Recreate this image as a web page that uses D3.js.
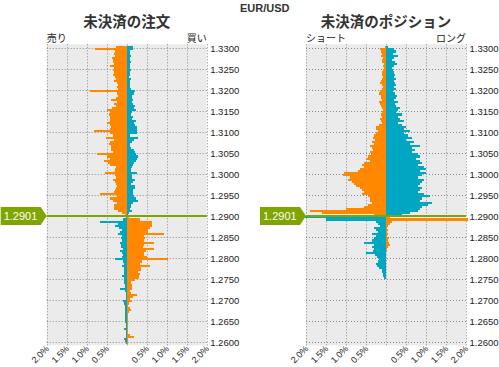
<!DOCTYPE html>
<html><head><meta charset="utf-8">
<script src="https://cdn.jsdelivr.net/npm/d3@7"></script>
<style>body{margin:0;background:#fff}svg{display:block}</style></head>
<body><svg id="c" width="499" height="367"></svg>
<script>
const chartTitle = "EUR/USD";
const panelTitles = ["未決済の注文", "未決済のポジション"];
const sideLabels = [["売り", "買い"], ["ショート", "ロング"]];
const priceTicks = ["1.3300","1.3250","1.3200","1.3150","1.3100","1.3050","1.3000","1.2950","1.2900","1.2850","1.2800","1.2750","1.2700","1.2650","1.2600"];
const pctTickValues = [-2, -1.5, -1, -0.5, 0.5, 1, 1.5, 2];
const pctTickLabels = ["2.0%", "1.5%", "1.0%", "0.5%", "0.5%", "1.0%", "1.5%", "2.0%"];
const currentPrice = 1.2901;
const currentLabel = "1.2901";
// price buckets (lower bound), top to bottom, 0.0005 wide
const buckets = d3.range(142).map(i => +(1.3300 - i * 0.0005).toFixed(4));

// Open orders: left side (%), right side (%)
const ordersLeft = [.27,.79,.29,.32,.30,.37,.35,.35,.33,.42,.32,.35,.33,.35,.30,.28,.33,.25,.23,.25,.23,.92,.25,.23,.27,.40,.25,.33,.28,.38,.50,.43,.45,.42,.43,.42,.50,.42,.40,.42,.82,.43,.35,.52,.33,.43,.45,.40,.40,
 .40,.35,.75,.50,.42,.57,.46,.43,.27,.29,.29,.54,.29,.27,.35,.29,.27,.25,.27,.30,.33,.67,.25,.42,.35,.25,.33,.33,.33,.23,.12,.05,
 .02,.10,.67,.22,.30,.20,.13,.17,.22,.13,.15,.13,.17,.15,.15,.10,.17,.13,.10,.12,.29,.10,.08,.13,.07,.08,.08,.07,.12,.08,.08,.08,.05,.05,.17,.05,.03,.03,.03,.03,.10,.07,.05,.05,.05,.05,.05,.05,.05,.05,.05,.03,.03,.08,.03,.02,.02,.02,.08,.05,.03];
const ordersRight = [.15,.15,.08,.07,.10,.08,.07,.10,.07,.08,.07,.10,.07,.07,.05,.10,.08,.07,.08,.09,.10,.21,.17,.12,.13,.15,.13,.15,.20,.18,.23,.13,.10,.15,.12,.22,.18,.20,.25,.25,.25,.25,.07,.28,.17,.13,.08,.07,.10,
 .17,.20,.22,.27,.25,.22,.18,.15,.13,.10,.10,.25,.13,.13,.20,.15,.10,.20,.20,.15,.15,.15,.18,.23,.27,.15,.10,.10,.07,.13,.05,.03,
 .05,.33,.63,.63,.62,.58,.54,.52,.93,.42,.45,.43,.68,.43,.40,.68,.48,.42,.43,.50,1.03,.37,.33,.58,.35,.35,.27,.32,.30,.30,.20,.10,.13,.13,.12,.08,.10,.25,.15,.08,.13,.05,.02,.07,.10,.05,.03,.02,.02,.02,.02,.02,.02,.02,.02,.02,.07,.18,.03,.02,.02];
// Open positions
const positionsLeft = [.03,.15,.12,.10,.12,.08,.10,.10,.05,.08,.05,.08,.10,.10,.08,.10,.12,.15,.10,.08,.10,.15,.17,.12,.12,.10,.17,.15,.12,.10,.08,.10,.12,.10,.15,.12,.10,.17,.25,.25,.20,.25,.30,.33,.27,.35,.30,.40,.35,
 .33,.40,.37,.45,.50,.40,.55,.60,.55,.65,.70,1.05,1.07,.90,.95,.85,.80,.75,.65,.60,.55,.60,.45,.40,.40,.35,.45,.55,1.00,1.90,1.60,.30,
 2.70,1.50,.25,.20,.15,.30,.25,.20,.35,.25,.30,.35,.55,.30,.35,.30,.32,.50,.28,.22,.18,.20,.25,.22,.18,.10,.10,.07,.07,.05];
const positionsRight = [.05,.20,.25,.18,.30,.20,.15,.22,.28,.20,.15,.18,.20,.22,.20,.25,.20,.22,.25,.20,.25,.18,.22,.28,.25,.20,.30,.22,.25,.35,.30,.25,.40,.30,.35,.45,.30,.40,.50,.45,.60,.45,.55,.65,.50,.70,.60,.85,.65,
 .72,.65,.80,.85,.75,.85,.90,.80,.95,1.0,.85,1.0,.90,.80,.95,.90,.85,.80,.90,.85,.80,.95,1.10,.90,.85,1.15,1.05,.90,.85,.80,.60,.40,
 .10,2.05,.15,.10,.05,.03,.05,.02,.05,.03,.08,.05,.07,.10,.05,.03,.02];

const ORANGE = "#ff8800", TEAL = "#00a6c2", GREEN = "#7fa600";
const svg = d3.select("#c");
const y = d3.scaleLinear().domain([1.2600, 1.3300]).range([342.3, 48.3]);
const panels = [
  {x0: 46.7, x1: 206.7, left: ordersLeft, right: ordersRight},
  {x0: 306, x1: 466, left: positionsLeft, right: positionsRight}
];
const yTop = d => Math.round(y(d.b + 0.0005));
const yBot = d => Math.round(y(d.b));

svg.append("text").attr("x", 240).attr("y", 12).text(chartTitle)
  .attr("font-family", "Liberation Sans, Arial, sans-serif").attr("font-weight", "bold")
  .attr("font-size", 11).attr("fill", "#333");

panels.forEach((p, pi) => {
  const x = d3.scaleLinear().domain([-2, 2]).range([p.x0, p.x1]);
  const g = svg.append("g");
  const top = y(1.3300) - 4, bot = y(1.2600) + 3;
  g.append("rect").attr("x", x(-2)).attr("y", top).attr("width", x(2) - x(-2)).attr("height", bot - top).attr("fill", "#ebebeb");
  // grid
  g.selectAll(".vg").data(d3.range(-2, 2.01, 0.5)).join("line")
    .attr("x1", d => Math.round(x(d)) + 0.5).attr("x2", d => Math.round(x(d)) + 0.5)
    .attr("y1", top).attr("y2", bot)
    .attr("stroke", "#8a8a8a").attr("stroke-dasharray", "1,2");
  g.selectAll(".hg").data(priceTicks).join("line")
    .attr("x1", x(-2)).attr("x2", x(2))
    .attr("y1", d => Math.round(y(+d)) + 0.5).attr("y2", d => Math.round(y(+d)) + 0.5)
    .attr("stroke", "#8a8a8a").attr("stroke-dasharray", "1,2");
  // bars
  const rows = buckets.map((b, i) => ({b, l: p.left[i] || 0, r: p.right[i] || 0, above: b >= 1.2900}));
  const bars = g.append("g").attr("shape-rendering", "crispEdges");
  bars.selectAll(".bl").data(rows.filter(d => d.l > 0)).join("rect")
    .attr("x", d => x(-d.l)).attr("width", d => x(0) - x(-d.l))
    .attr("y", yTop).attr("height", d => yBot(d) - yTop(d))
    .attr("fill", d => d.above ? ORANGE : TEAL);
  bars.selectAll(".br").data(rows.filter(d => d.r > 0)).join("rect")
    .attr("x", x(0)).attr("width", d => x(d.r) - x(0))
    .attr("y", yTop).attr("height", d => yBot(d) - yTop(d))
    .attr("fill", d => d.above ? TEAL : ORANGE);
  // current price line and marker
  const cy = Math.round(y(1.2900));
  g.append("line").attr("x1", x(-2)).attr("x2", x(2)).attr("y1", cy).attr("y2", cy)
    .attr("stroke", GREEN).attr("stroke-width", 2);
  const mx = x(-2) - 46;
  g.append("path").attr("d", `M${mx},${cy - 9}H${mx + 40}L${mx + 46},${cy}L${mx + 40},${cy + 9}H${mx}Z`).attr("fill", GREEN);
  g.append("text").attr("x", mx + 3).attr("y", cy + 4).text(currentLabel)
    .attr("font-family", "Liberation Sans, Arial, sans-serif").attr("font-size", 11).attr("fill", "#fff");
  // price labels
  g.selectAll(".pl").data(priceTicks).join("text")
    .attr("x", x(2) + 3.5).attr("y", d => y(+d) + 3.5).text(d => d)
    .attr("font-family", "Liberation Sans, Arial, sans-serif").attr("font-size", 9.5).attr("fill", "#222");
  // pct labels
  g.selectAll(".xl").data(pctTickValues).join("text")
    .attr("transform", d => `translate(${x(d) + 3},${bot + 4}) rotate(-45)`)
    .attr("text-anchor", "end").text((d, i) => pctTickLabels[i])
    .attr("font-family", "Liberation Sans, Arial, sans-serif").attr("font-size", 9).attr("fill", "#222");
  // titles
  g.append("text").attr("x", (x(-2) + x(2)) / 2).attr("y", 27).attr("text-anchor", "middle")
    .text(panelTitles[pi]).attr("font-family", "Noto Sans CJK JP").attr("font-weight", "bold")
    .attr("font-size", 14.5).attr("fill", "#333");
  g.append("text").attr("x", x(-2)).attr("y", 42).text(sideLabels[pi][0])
    .attr("font-family", "Noto Sans CJK JP").attr("font-size", 10).attr("fill", "#222");
  g.append("text").attr("x", x(2)).attr("y", 42).attr("text-anchor", "end").text(sideLabels[pi][1])
    .attr("font-family", "Noto Sans CJK JP").attr("font-size", 10).attr("fill", "#222");
});
</script></body></html>
